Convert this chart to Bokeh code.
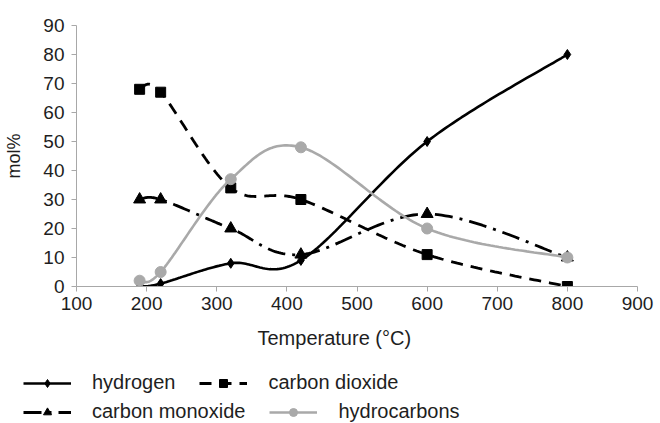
import numpy as np
from bokeh.plotting import figure
from bokeh.layouts import column
from bokeh.models import FixedTicker, Legend, LegendItem, Title, Range1d
from bokeh.embed import file_html
from bokeh.resources import INLINE

# ---- data ----
temperature = [190, 220, 320, 420, 600, 800]
hydrogen = [0, 1, 8, 9, 50, 80]
carbon_dioxide = [68, 67, 34, 30, 11, 0]
carbon_monoxide = [30, 30, 20, 11, 25, 10]
hydrocarbons = [2, 5, 37, 48, 20, 10]
x_ticks = [100, 200, 300, 400, 500, 600, 700, 800, 900]
y_ticks = [0, 10, 20, 30, 40, 50, 60, 70, 80, 90]

FONT = "Liberation Sans"
TXT = "#1e1e1e"
AXC = "#a8a8a8"
GRAY = "#a9a9a9"


def smooth(xs, ys, n=40):
    """Excel-style smoothed line: cubic Bezier through the points."""
    P = np.column_stack([xs, ys]).astype(float)
    E = np.vstack([P[0], P, P[-1]])
    parts = []
    for i in range(len(P) - 1):
        p0, p1, p2, p3 = E[i], E[i + 1], E[i + 2], E[i + 3]
        c1 = p1 + (p2 - p0) / 6.0
        c2 = p2 - (p3 - p1) / 6.0
        t = np.linspace(0, 1, n)[:, None]
        seg = (1 - t) ** 3 * p1 + 3 * (1 - t) ** 2 * t * c1 + 3 * (1 - t) * t ** 2 * c2 + t ** 3 * p2
        parts.append(seg if i == 0 else seg[1:])
    S = np.vstack(parts)
    return S[:, 0], S[:, 1]


p = figure(width=660, height=372,
           x_range=Range1d(100, 900), y_range=Range1d(0, 90),
           output_backend="svg", toolbar_location=None,
           min_border_left=76, min_border_right=23,
           min_border_top=25, min_border_bottom=86)
p.grid.visible = False
p.outline_line_color = None

for ax in (p.xaxis[0], p.yaxis[0]):
    ax.axis_line_color = AXC
    ax.major_tick_line_color = AXC
    ax.minor_tick_line_color = None
    ax.major_tick_out = 5
    ax.major_tick_in = 0
    ax.major_label_text_font = FONT
    ax.major_label_text_font_size = "19px"
    ax.major_label_text_color = TXT

p.xaxis.ticker = FixedTicker(ticks=x_ticks)
p.yaxis.ticker = FixedTicker(ticks=y_ticks)
p.xaxis.major_label_standoff = 5
p.yaxis.major_label_standoff = 7
p.yaxis.axis_label = "mol%"
p.yaxis.axis_label_text_font = FONT
p.yaxis.axis_label_text_font_size = "18px"
p.yaxis.axis_label_text_font_style = "normal"
p.yaxis.axis_label_text_color = TXT
p.yaxis.axis_label_standoff = 16

series = [
    ("hydrogen", hydrogen, dict(line_color="black", line_width=2.6), dict(marker="diamond", size=10, color="black")),
    ("carbon dioxide", carbon_dioxide, dict(line_color="black", line_width=2.8, line_dash="12 8"), dict(marker="square", size=10, color="black")),
    ("carbon monoxide", carbon_monoxide, dict(line_color="black", line_width=2.8, line_dash="18 7 3 7"), dict(marker="triangle", size=12, color="black")),
    ("hydrocarbons", hydrocarbons, dict(line_color=GRAY, line_width=2.6), dict(marker="circle", size=11, color=GRAY)),
]

# legend strip below the chart (its own figure; series kept out of its view)
lf = figure(width=660, height=51, x_range=Range1d(-10, -9), y_range=Range1d(-10, -9),
            output_backend="svg", toolbar_location=None,
            x_axis_type=None, y_axis_type=None,
            min_border_left=0, min_border_right=0, min_border_top=0, min_border_bottom=0)
lf.grid.visible = False
lf.outline_line_color = None
lf.frame_align = False
p.frame_align = False

items = []
for name, vals, lkw, mkw in series:
    sx, sy = smooth(temperature, vals)
    p.line(sx, sy, **lkw)
    p.scatter(temperature, vals, **mkw)
    lr = lf.line(temperature, vals, **lkw)
    mr = lf.scatter(temperature, vals, **mkw)
    items.append(LegendItem(label=name, renderers=[lr, mr]))

xtitle = Title(text="Temperature (°C)", align="left", offset=181, standoff=24,
               text_font=FONT, text_font_size="20px", text_font_style="normal",
               text_color=TXT)
p.add_layout(xtitle, "below")


def make_legend(its, loc):
    return Legend(items=its, location=loc, orientation="horizontal",
                  padding=0, margin=0, spacing=24, glyph_width=48, glyph_height=20,
                  label_standoff=21, label_height=20,
                  label_text_font=FONT, label_text_font_size="20px", label_text_color=TXT,
                  border_line_color=None, background_fill_alpha=0)


lf.add_layout(make_legend(items[:2], (23, 29)))
lf.add_layout(make_legend(items[2:], (23, 0)))

layout = column(p, lf, spacing=0)
open("out.html", "w").write(file_html(layout, INLINE))
